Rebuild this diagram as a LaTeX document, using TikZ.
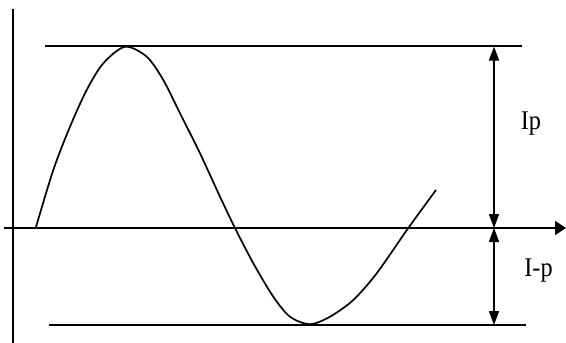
\documentclass[tikz,border=0pt]{standalone}
\usepackage{fontspec}
\setmainfont{Liberation Serif}
\usetikzlibrary{arrows.meta}
\begin{document}
\begin{tikzpicture}[x=1pt,y=-1pt,
  ln/.style={line width=1.7pt},
  dimarrow/.style={line width=1.7pt,{Triangle[length=14pt,width=10pt]}-{Triangle[length=14pt,width=10pt]}},
  axisarrow/.style={line width=1.7pt,-{Triangle[length=11pt,width=14pt]}},
  lbl/.style={inner sep=0pt,anchor=base,font=\fontsize{27}{30}\selectfont}]
\useasboundingbox (0,0) rectangle (566,343);
% axes
\coordinate (yb) at (13.3,343);
\coordinate (yt) at (13.3,9);
\coordinate (xl) at (4,228);
\coordinate (xr) at (566,228);
\draw[ln] (yb) -- (yt);
\draw[axisarrow] (xl) -- (xr);
% peak lines
\coordinate (tl) at (45,46);
\coordinate (tr) at (522,46);
\coordinate (bl) at (49,325);
\coordinate (br) at (526,325);
\draw[ln] (tl) -- (tr);
\draw[ln] (bl) -- (br);
% dimension arrows
\coordinate (dt) at (494,46.5);
\coordinate (dm) at (494,228);
\coordinate (db) at (494,325);
\draw[dimarrow] (dt) -- (dm);
\draw[dimarrow] (dm) -- (db);
\node[lbl] (ip) at (531,129) {\scalebox{0.9}[1]{Ip}};
\node[lbl] (imp) at (538.5,276) {\scalebox{0.9}[1]{I-p}};
% waveform
\draw[ln,line join=round] plot[smooth,tension=0.5] coordinates {
 (35.7,228) (53.3,170) (70,126.7) (86.7,90) (103.3,63.3) (125,46.8)
 (146.7,56.7) (163.3,80) (180,113.3) (200,153.3) (220,196.7) (235,228)
 (253.3,263.3) (273.3,296.7) (290,316.7) (310,324.2) (330,316.7)
 (353.3,300) (376.7,273.3) (408.3,228) (436,190)};
\end{tikzpicture}
\end{document}
